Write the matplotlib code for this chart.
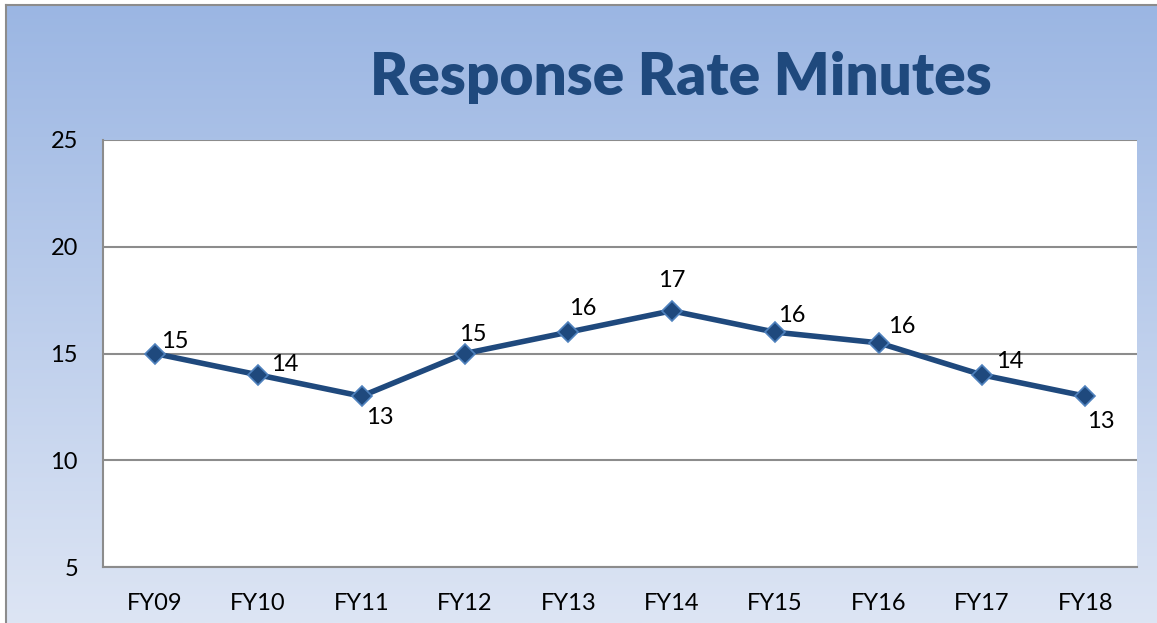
import numpy as np
import matplotlib.pyplot as plt

years = ['FY09', 'FY10', 'FY11', 'FY12', 'FY13', 'FY14', 'FY15', 'FY16', 'FY17', 'FY18']
minutes = [15, 14, 13, 15, 16, 17, 16, 15.5, 14, 13]
labels = ['15', '14', '13', '15', '16', '17', '16', '16', '14', '13']

# label offsets in pixels (dx, dy), dy positive = up
offsets = [(20, 12), (27, 10), (18, -21), (8, 19), (14, 24),
           (0, 30), (17, 17), (23, 16), (28, 13), (16, -25)]

plt.rcParams['font.family'] = ['Lato', 'DejaVu Sans']

W, H = 1157, 623
fig = plt.figure(figsize=(W / 100, H / 100), dpi=100)
fig.patch.set_facecolor('white')

# gradient chart background with outer border (left / top visible)
bg = fig.add_axes([6 / W, 0, 1 - 6 / W + 0.01, 1 - 5 / H])
top = np.array([155, 182, 227]) / 255
bot = np.array([221, 229, 244]) / 255
t = np.linspace(0, 1, 256)[:, None]
grad = top[None, :] * (1 - t) + bot[None, :] * t
bg.imshow(grad[:, None, :], aspect='auto', extent=[0, 1, 0, 1])
bg.set_xticks([])
bg.set_yticks([])
for s in ['right', 'bottom']:
    bg.spines[s].set_visible(False)
for s in ['left', 'top']:
    bg.spines[s].set_color('#8c8c8c')
    bg.spines[s].set_linewidth(1.5)

ax = fig.add_axes([103 / W, 1 - 567 / H, (1137 - 103) / W, (567 - 140) / H])
ax.set_facecolor('white')
x = np.arange(len(years))
ax.plot(x, minutes, color='#1F497D', lw=4, marker='D', ms=10,
        mfc='#1F497D', mec='#4F81BD', mew=1.2, zorder=3, clip_on=False)

for xi, yi, lab, (dx, dy) in zip(x, minutes, labels, offsets):
    ax.annotate(lab, (xi, yi), xytext=(dx * 0.72, dy * 0.72), textcoords='offset points',
                ha='center', va='center', fontsize=17, color='black')

ax.set_xlim(-0.5, len(years) - 0.5)
ax.set_ylim(5, 25)
ax.set_yticks([5, 10, 15, 20, 25])
ax.set_xticks(x)
ax.set_xticklabels(years)
ax.tick_params(axis='both', length=0, labelsize=17)
ax.tick_params(axis='y', pad=18)
ax.tick_params(axis='x', pad=19)
ax.grid(axis='y', color='#8c8c8c', lw=1.5)
ax.set_axisbelow(True)
for s in ['top', 'right']:
    ax.spines[s].set_visible(False)
for s in ['left', 'bottom']:
    ax.spines[s].set_color('#8c8c8c')
    ax.spines[s].set_linewidth(1.5)

fig.text(681 / W, 1 - 77 / H, 'Response Rate Minutes', ha='center', va='center',
         fontsize=42, fontweight='heavy', color='#1F497D')

fig.savefig('out.png', dpi=100, facecolor=fig.get_facecolor())
